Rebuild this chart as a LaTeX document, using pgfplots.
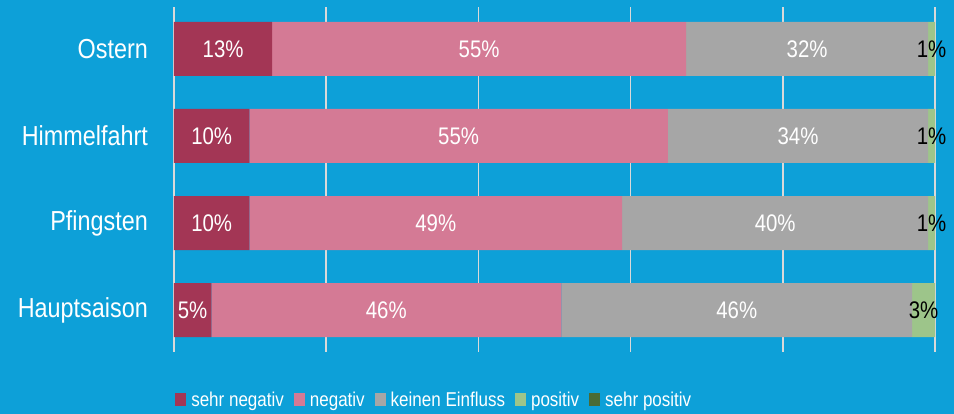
\documentclass[border=0pt]{standalone}
\usepackage{pgfplots}
\pgfplotsset{compat=1.18}
\usepackage{pgfplotstable}
\usepackage{fontspec}
\setmainfont[FakeStretch=0.85]{Liberation Sans}

\definecolor{bgblue}{RGB}{13,160,216}
\definecolor{c1}{RGB}{163,54,85}
\definecolor{c2}{RGB}{212,122,149}
\definecolor{c3}{RGB}{166,166,166}
\definecolor{c4}{RGB}{157,197,138}
\definecolor{c5}{RGB}{74,107,53}
\definecolor{gridc}{RGB}{217,217,217}

% y: 3=Ostern, 2=Himmelfahrt, 1=Pfingsten, 0=Hauptsaison
\pgfplotstableread{
y val lab
3 12.9 13
2 9.9 10
1 9.9 10
0 4.9 5
}\sehrneg
\pgfplotstableread{
y val lab
3 54.4 55
2 55.0 55
1 49.0 49
0 46.0 46
}\neg
\pgfplotstableread{
y val lab
3 31.8 32
2 34.2 34
1 40.2 40
0 46.1 46
}\keinen
\pgfplotstableread{
y val lab
3 0.9 1
2 0.9 1
1 0.9 1
0 3.0 3
}\pos

\begin{document}
\begin{tikzpicture}
\fill[bgblue] (-174pt,-62pt) rectangle (780pt,352pt);
\begin{axis}[
  at={(0pt,0pt)}, anchor=south west,
  scale only axis, width=761pt, height=345pt,
  xbar stacked, bar width=0.62,
  xmin=0, xmax=100, ymin=-0.48, ymax=3.48,
  xtick={0,20,...,100}, xticklabels={,,,,,},
  xmajorgrids, grid style={gridc, line width=1.5pt},
  ytick={0,1,2,3}, yticklabels={Hauptsaison,Pfingsten,Himmelfahrt,Ostern},
  major tick length=0pt, axis line style={draw=none},
  yticklabel style={text=white, font=\fontsize{27.5}{30}\selectfont, inner sep=0pt, xshift=-26pt},
  /pgf/number format/assume math mode=true,
  point meta=explicit,
  nodes near coords={\pgfmathprintnumber[fixed,precision=0]{\pgfplotspointmeta}\%},
  every node near coord/.append style={anchor=center, text=white, font=\fontsize{24}{28}\selectfont},
  legend image code/.code={\fill[#1] (0pt,-6.5pt) rectangle (11pt,6.5pt);},
  legend columns=-1,
  legend style={at={(axis description cs:0.342,-0.139)}, anchor=center, draw=none, fill=none,
    text=white, font=\fontsize{20}{24}\selectfont,
    /tikz/every odd column/.append style={column sep=3pt},
    /tikz/every even column/.append style={column sep=8pt},
    nodes={inner sep=2pt}},
]
\addplot[fill=c1, draw=none] table[x=val, y=y, meta=lab] {\sehrneg};
\addlegendentry{sehr negativ}
\addplot[fill=c2, draw=none] table[x=val, y=y, meta=lab] {\neg};
\addlegendentry{negativ}
\addplot[fill=c3, draw=none] table[x=val, y=y, meta=lab] {\keinen};
\addlegendentry{keinen Einfluss}
\addplot[fill=c4, draw=none, every node near coord/.append style={text=black}] table[x=val, y=y, meta=lab] {\pos};
\addlegendentry{positiv}
\addlegendimage{fill=c5, draw=none}
\addlegendentry{sehr positiv}
\end{axis}
\end{tikzpicture}
\end{document}
